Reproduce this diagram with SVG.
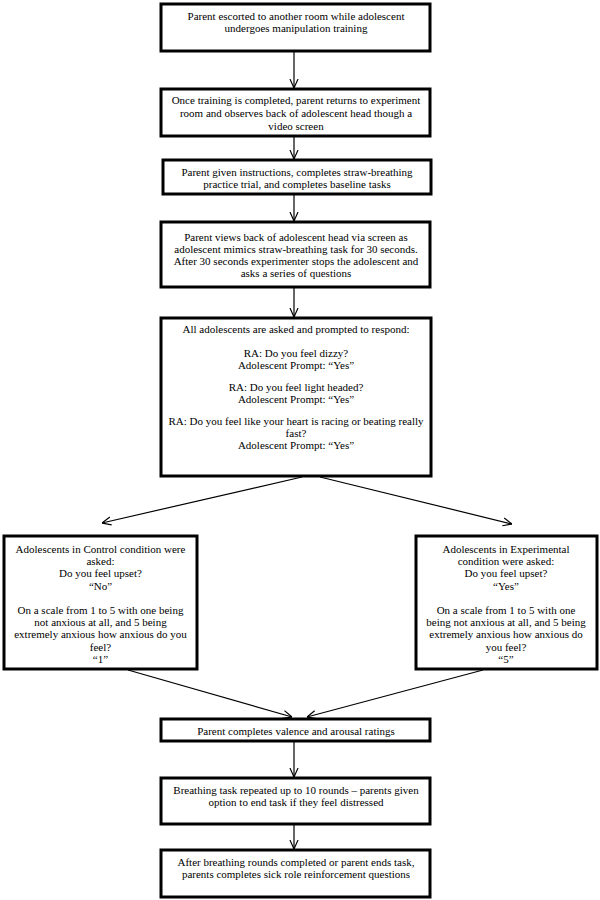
<svg xmlns="http://www.w3.org/2000/svg" width="600" height="900" viewBox="0 0 600 900">
<style>
.box{fill:#fff;stroke:#000;stroke-width:3}
.t{font-family:"Liberation Serif","Times New Roman",Times,serif;font-size:11px;fill:#000;text-anchor:middle}
.c{stroke:#000;stroke-width:1.2;fill:none;marker-end:url(#ah)}
</style>
<defs>
<marker id="ah" viewBox="0 0 10 10" refX="10" refY="5" markerWidth="9" markerHeight="10" markerUnits="userSpaceOnUse" orient="auto">
<path d="M0,0.5 L10,5 L0,9.5" fill="none" stroke="#000" stroke-width="1.3"/>
</marker>
</defs>
<rect width="600" height="900" fill="#fff"/>
<g id="connectors">
<line class="c" x1="294" y1="52" x2="294" y2="88"/>
<line class="c" x1="294" y1="137" x2="294" y2="159"/>
<line class="c" x1="294" y1="195" x2="294" y2="221"/>
<line class="c" x1="294" y1="288" x2="294" y2="317"/>
<line class="c" x1="302" y1="477" x2="102" y2="523"/>
<line class="c" x1="320" y1="477" x2="512" y2="524"/>
<line class="c" x1="128" y1="670" x2="292" y2="717"/>
<line class="c" x1="483" y1="670" x2="307" y2="717"/>
<line class="c" x1="294" y1="742" x2="294" y2="777"/>
<line class="c" x1="294" y1="825" x2="294" y2="849"/>
</g>
<g id="n1">
<rect class="box" x="161" y="4" width="269" height="47"/>
<text class="t" x="296" y="19.5">Parent escorted to another room while adolescent</text>
<text class="t" x="296" y="32">undergoes manipulation training</text>
</g>
<g id="n2">
<rect class="box" x="161" y="89" width="269" height="47"/>
<text class="t" x="296" y="104">Once training is completed, parent returns to experiment</text>
<text class="t" x="296" y="117">room and observes back of adolescent head though a</text>
<text class="t" x="296" y="130">video screen</text>
</g>
<g id="n3">
<rect class="box" x="163" y="160" width="268" height="34"/>
<text class="t" x="297" y="176">Parent given instructions, completes straw-breathing</text>
<text class="t" x="297" y="188">practice trial, and completes baseline tasks</text>
</g>
<g id="n4">
<rect class="box" x="161" y="222" width="269" height="65"/>
<text class="t" x="296" y="240.5">Parent views back of adolescent head via screen as</text>
<text class="t" x="296" y="252.5">adolescent mimics straw-breathing task for 30 seconds.</text>
<text class="t" x="296" y="264.5">After 30 seconds experimenter stops the adolescent and</text>
<text class="t" x="296" y="276.5">asks a series of questions</text>
</g>
<g id="n5">
<rect class="box" x="161" y="318" width="270" height="158"/>
<text class="t" x="296" y="333">All adolescents are asked and prompted to respond:</text>
<text class="t" x="296" y="357">RA: Do you feel dizzy?</text>
<text class="t" x="296" y="369">Adolescent Prompt: “Yes”</text>
<text class="t" x="296" y="391">RA: Do you feel light headed?</text>
<text class="t" x="296" y="402.5">Adolescent Prompt: “Yes”</text>
<text class="t" x="296" y="425">RA: Do you feel like your heart is racing or beating really</text>
<text class="t" x="296" y="437">fast?</text>
<text class="t" x="296" y="448.5">Adolescent Prompt: “Yes”</text>
</g>
<g id="n6">
<rect class="box" x="4" y="536" width="193" height="133"/>
<text class="t" x="100.5" y="553">Adolescents in Control condition were</text>
<text class="t" x="100.5" y="565.2">asked:</text>
<text class="t" x="100.5" y="577.4">Do you feel upset?</text>
<text class="t" x="100.5" y="589.6">“No”</text>
<text class="t" x="100.5" y="614">On a scale from 1 to 5 with one being</text>
<text class="t" x="100.5" y="626.2">not anxious at all, and 5 being</text>
<text class="t" x="100.5" y="638.4">extremely anxious how anxious do you</text>
<text class="t" x="100.5" y="650.6">feel?</text>
<text class="t" x="100.5" y="662.8">“1”</text>
</g>
<g id="n7">
<rect class="box" x="416" y="536" width="181" height="133"/>
<text class="t" x="506" y="553">Adolescents in Experimental</text>
<text class="t" x="506" y="565.2">condition were asked:</text>
<text class="t" x="506" y="577.4">Do you feel upset?</text>
<text class="t" x="506" y="589.6">“Yes”</text>
<text class="t" x="506" y="614">On a scale from 1 to 5 with one</text>
<text class="t" x="506" y="626.2">being not anxious at all, and 5 being</text>
<text class="t" x="506" y="638.4">extremely anxious how anxious do</text>
<text class="t" x="506" y="650.6">you feel?</text>
<text class="t" x="506" y="662.8">“5”</text>
</g>
<g id="n8">
<rect class="box" x="161" y="719" width="269" height="22"/>
<text class="t" x="296" y="734.5">Parent completes valence and arousal ratings</text>
</g>
<g id="n9">
<rect class="box" x="161" y="778" width="269" height="46"/>
<text class="t" x="296" y="794">Breathing task repeated up to 10 rounds – parents given</text>
<text class="t" x="296" y="806">option to end task if they feel distressed</text>
</g>
<g id="n10">
<rect class="box" x="161" y="850" width="269" height="47"/>
<text class="t" x="296" y="866">After breathing rounds completed or parent ends task,</text>
<text class="t" x="296" y="878">parents completes sick role reinforcement questions</text>
</g>
</svg>
